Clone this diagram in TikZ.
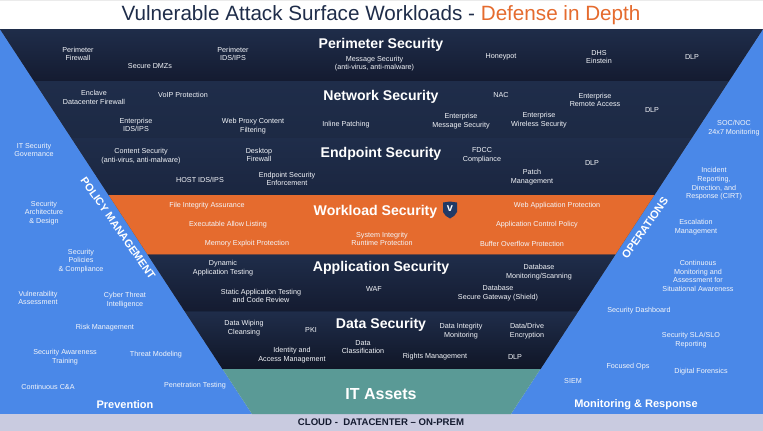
\documentclass[tikz,border=0pt]{standalone}
\usepackage{fontspec}
\setmainfont{Liberation Sans}
\definecolor{navy}{HTML}{1F2D4A}
\definecolor{navydeep}{HTML}{141B30}
\definecolor{sideblue}{HTML}{4A88E8}
\definecolor{burnt}{HTML}{E56B2E}
\definecolor{teal2}{HTML}{5A9A96}
\definecolor{barlilac}{HTML}{C9CBE0}
\definecolor{shieldblue}{HTML}{213A66}
\definecolor{offwhite}{HTML}{F4F6FA}
\tikzset{
  lbl/.style={text=offwhite,inner sep=0pt,align=center,font=\fontsize{7.2}{8.7}\selectfont},
  head/.style={text=white,inner sep=0pt,font=\fontsize{14.1}{16}\selectfont\bfseries},
  sidehead/.style={text=white,inner sep=0pt,font=\fontsize{11}{13}\selectfont\bfseries},
  band/.style={top color=navy,bottom color=navydeep,draw=none},
}
\begin{document}
\begin{tikzpicture}[x=1pt,y=-1pt]
\useasboundingbox (0,0) rectangle (763,431);
\fill[white] (0,0) rectangle (763,431);
\fill[black!8] (0,0) rectangle (763,1);
% side panels and base
\fill[sideblue] (0,29) -- (252,414) -- (0,414) -- cycle;
\fill[sideblue] (763,29) -- (511,414) -- (763,414) -- cycle;
\fill[barlilac] (0,414) rectangle (763,431);
% underlay so that no seam shows between bands
\fill[navy] (0,29) -- (763,29) -- (540.5,369) -- (222.5,369) -- cycle;
% bands
\shade[band] (0,29) -- (763,29) -- (729,81) -- (34,81) -- cycle;
\shade[band,top color=navy,bottom color=navy!92!black] (34,81) -- (729,81) -- (691.7,138) -- (71.3,138) -- cycle;
\shade[band,bottom color=navy!60!navydeep] (71.3,138) -- (691.7,138) -- (654.4,195) -- (108.6,195) -- cycle;
\fill[burnt] (108.6,195) -- (654.4,195) -- (615.4,254.5) -- (147.6,254.5) -- cycle;
\shade[band] (147.6,254.5) -- (615.4,254.5) -- (578,311.7) -- (185,311.7) -- cycle;
\shade[band,bottom color=navydeep!80!black] (185,311.7) -- (578,311.7) -- (540.5,369) -- (222.5,369) -- cycle;
\fill[teal2] (222.5,369) -- (540.5,369) -- (511,414) -- (252,414) -- cycle;
% title
\node[inner sep=0pt,font=\fontsize{20.65}{24}\selectfont] (title) at (381,15.5) {\textcolor{navy}{Vulnerable Attack Surface Workloads - }\textcolor{burnt}{Defense in Depth}};
% headings
\node[head] (h1) at (381,44.5) {Perimeter Security};
\node[head] (h2) at (381,96.5) {Network Security};
\node[head] (h3) at (381,153.5) {Endpoint Security};
\node[head] (h4) at (375.5,211.5) {Workload Security};
\node[head] (h5) at (381,267.5) {Application Security};
\node[head] (h6) at (381,324.5) {Data Security};
\node[head,font=\fontsize{16}{18}\selectfont\bfseries] (h7) at (381,394) {IT Assets};
\node[inner sep=0pt,text=navydeep,font=\fontsize{9.6}{11}\selectfont\bfseries] (base) at (381,422) {CLOUD -\ \ DATACENTER – ON-PREM};
% shield
\fill[shieldblue] (443,202.5) -- (450,201.5) -- (457,202.5) -- (457,212) .. controls (456,215) and (453,217) .. (450,218.5) .. controls (447,217) and (444,215) .. (443,212) -- cycle;
\node[inner sep=0pt,text=white,font=\fontsize{11}{12}\selectfont\bfseries] (shieldv) at (450,209) {v};
% perimeter
\node[lbl] (a1) at (78,54) {Perimeter\\Firewall};
\node[lbl] (a2) at (150,66) {Secure DMZs};
\node[lbl] (a3) at (233,54) {Perimeter\\IDS/IPS};
\node[lbl] (a4) at (374.5,63.5) {Message Security\\(anti-virus, anti-malware)};
\node[lbl] (a5) at (501,57) {Honeypot};
\node[lbl] (a6) at (599,57) {DHS\\Einstein};
\node[lbl] (a7) at (692,57) {DLP};
% network
\node[lbl] (b1) at (94,97.5) {Enclave\\Datacenter Firewall};
\node[lbl] (b2) at (183,95) {VoIP Protection};
\node[lbl] (b3) at (136,125) {Enterprise\\IDS/IPS};
\node[lbl] (b4) at (253,126) {Web Proxy Content\\Filtering};
\node[lbl] (b5) at (346,125) {Inline Patching};
\node[lbl] (b6) at (461,121) {Enterprise\\Message Security};
\node[lbl] (b7) at (539,120) {Enterprise\\Wireless Security};
\node[lbl] (b8) at (501,95) {NAC};
\node[lbl] (b9) at (595,100) {Enterprise\\Remote Access};
\node[lbl] (b10) at (652,110) {DLP};
% endpoint
\node[lbl] (c1) at (141,156) {Content Security\\(anti-virus, anti-malware)};
\node[lbl] (c2) at (259,155) {Desktop\\Firewall};
\node[lbl] (c3) at (200,180) {HOST IDS/IPS};
\node[lbl] (c4) at (287,179) {Endpoint Security\\Enforcement};
\node[lbl] (c5) at (482,155) {FDCC\\Compliance};
\node[lbl] (c6) at (532,177) {Patch\\Management};
\node[lbl] (c7) at (592,163) {DLP};
% workload
\node[lbl] (d1) at (207,206) {File Integrity Assurance};
\node[lbl] (d2) at (557,206) {Web Application Protection};
\node[lbl] (d3) at (228,225) {Executable Allow Listing};
\node[lbl] (d4) at (537,225) {Application Control Policy};
\node[lbl] (d5) at (247,244) {Memory Exploit Protection};
\node[lbl] (d6) at (382,239) {System Integrity\\Runtime Protection};
\node[lbl] (d7) at (522,244) {Buffer Overflow Protection};
% application
\node[lbl] (e1) at (223,268) {Dynamic\\Application Testing};
\node[lbl] (e2) at (261,296) {Static Application Testing\\and Code Review};
\node[lbl] (e3) at (374,289) {WAF};
\node[lbl] (e4) at (539,272) {Database\\Monitoring/Scanning};
\node[lbl] (e5) at (498,293) {Database\\Secure Gateway (Shield)};
% data
\node[lbl] (f1) at (244,328) {Data Wiping\\Cleansing};
\node[lbl] (f2) at (311,330) {PKI};
\node[lbl] (f3) at (292,355) {Identity and\\Access Management};
\node[lbl] (f4) at (363,347) {Data\\Classification};
\node[lbl] (f5) at (435,357) {Rights Management};
\node[lbl] (f6) at (461,331) {Data Integrity\\Monitoring};
\node[lbl] (f7) at (527,331) {Data/Drive\\Encryption};
\node[lbl] (f8) at (515,357) {DLP};
% policy management side
\node[sidehead,rotate=-55,font=\fontsize{10.8}{13}\selectfont\bfseries] (pm) at (118,228) {POLICY MANAGEMENT};
\node[lbl] (g1) at (34,150) {IT Security\\Governance};
\node[lbl] (g2) at (44,213) {Security\\Architecture\\\& Design};
\node[lbl] (g3) at (81,261) {Security\\Policies\\\& Compliance};
\node[lbl] (g4) at (38,298) {Vulnerability\\Assessment};
\node[lbl] (g5) at (125,300) {Cyber Threat\\Intelligence};
\node[lbl] (g6) at (105,328) {Risk Management};
\node[lbl] (g7) at (65,357) {Security Awareness\\Training};
\node[lbl] (g8) at (156,355) {Threat Modeling};
\node[lbl] (g9) at (48,387) {Continuous C\&A};
\node[lbl] (g10) at (195,386) {Penetration Testing};
\node[sidehead] (prev) at (125,405) {Prevention};
% operations side
\node[sidehead,rotate=55] (ops) at (645,228) {OPERATIONS};
\node[lbl] (i1) at (734,128) {SOC/NOC\\24x7 Monitoring};
\node[lbl] (i2) at (714,184) {Incident\\Reporting,\\Direction, and\\Response (CIRT)};
\node[lbl] (i3) at (696,227) {Escalation\\Management};
\node[lbl] (i4) at (698,276) {Continuous\\Monitoring and\\Assessment for\\Situational Awareness};
\node[lbl] (i5) at (639,311) {Security Dashboard};
\node[lbl] (i6) at (691,340) {Security SLA/SLO\\Reporting};
\node[lbl] (i7) at (628,367) {Focused Ops};
\node[lbl] (i8) at (701,372) {Digital Forensics};
\node[lbl] (i9) at (573,381) {SIEM};
\node[sidehead] (mon) at (636,405) {Monitoring \& Response};
\end{tikzpicture}
\end{document}
